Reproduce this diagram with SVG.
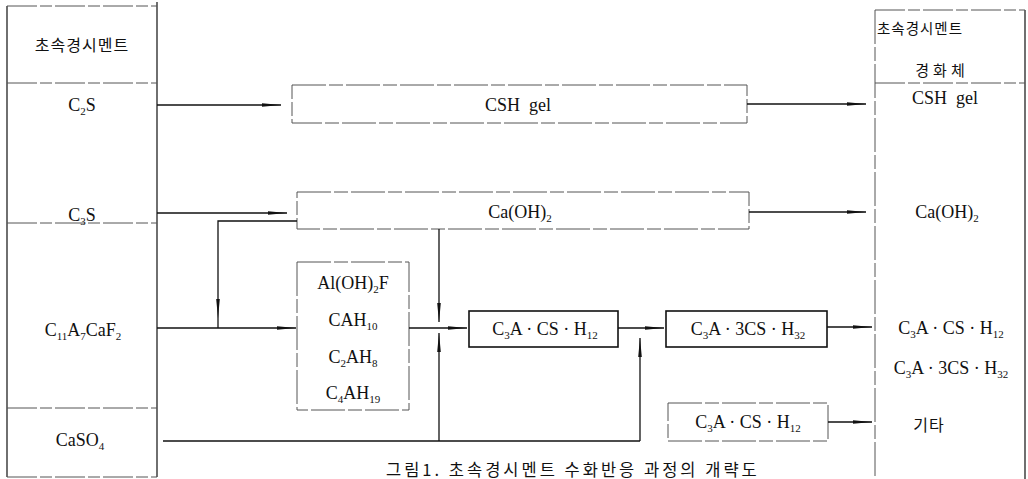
<svg xmlns="http://www.w3.org/2000/svg" width="1028" height="479" viewBox="0 0 1028 479">
<style>
  .t{font-family:"Liberation Serif","Times New Roman",serif;font-size:18px;fill:#111;text-anchor:middle}
  .k{font-family:"Noto Sans CJK KR","Liberation Serif",sans-serif;font-size:16px;fill:#111;letter-spacing:1px}
  .s{font-size:11px}
  .col{fill:none;stroke:#222;stroke-width:1.3}
  .sep{fill:none;stroke:#555;stroke-width:1;stroke-dasharray:30 3 12 3}
  .dbox{fill:none;stroke:#555;stroke-width:1;stroke-dasharray:34 3 14 3}
  .sbox{fill:none;stroke:#111;stroke-width:1.6}
  .c{fill:none;stroke:#111;stroke-width:1.3}
</style>
<defs>
  <marker id="a" markerUnits="userSpaceOnUse" markerWidth="20" markerHeight="6" refX="19" refY="3" orient="auto">
    <path d="M0,1.2 L19,3 L0,4.8 Z" fill="#111"/>
  </marker>
</defs>
<rect width="1028" height="479" fill="#fff"/>

<g id="left-column">
  <line class="col" x1="157" y1="2" x2="157" y2="477"/>
  <line class="col" x1="7" y1="6" x2="7" y2="477"/>
  <line class="sep" x1="7" y1="6" x2="157" y2="6"/>
  <line class="sep" x1="7" y1="83" x2="157" y2="83"/>
  <line class="sep" x1="7" y1="223" x2="157" y2="223"/>
  <line class="sep" x1="7" y1="408" x2="157" y2="408"/>
  <line class="sep" x1="7" y1="477" x2="157" y2="477"/>
  <text class="k" x="82" y="51" text-anchor="middle">초속경시멘트</text>
  <text class="t" x="82" y="111">C<tspan class="s" dy="4">2</tspan><tspan dy="-4">S</tspan></text>
  <text class="t" x="82" y="221">C<tspan class="s" dy="4">3</tspan><tspan dy="-4">S</tspan></text>
  <text class="t" x="83" y="336">C<tspan class="s" dy="4">11</tspan><tspan dy="-4">A</tspan><tspan class="s" dy="4">7</tspan><tspan dy="-4">CaF</tspan><tspan class="s" dy="4">2</tspan></text>
  <text class="t" x="80" y="446">CaSO<tspan class="s" dy="4">4</tspan></text>
</g>

<g id="right-column">
  <line class="dbox" x1="875" y1="10" x2="875" y2="479"/>
  <line class="col" x1="1025" y1="10" x2="1025" y2="479" stroke-width="1"/>
  <line class="sep" x1="875" y1="10" x2="1025" y2="10"/>
  <line class="sep" x1="875" y1="83" x2="1025" y2="83"/>
  <text class="k" x="877" y="34" style="font-size:14.5px">초속경시멘트</text>
  <text class="k" x="942" y="76" text-anchor="middle" style="font-size:15px;letter-spacing:4px">경화체</text>
  <text class="t" x="945" y="104" xml:space="preserve">CSH  gel</text>
  <text class="t" x="947" y="218">Ca(OH)<tspan class="s" dy="4">2</tspan></text>
  <text class="t" x="951" y="334">C<tspan class="s" dy="4">3</tspan><tspan dy="-4">A · CS · H</tspan><tspan class="s" dy="4">12</tspan></text>
  <text class="t" x="951" y="374">C<tspan class="s" dy="4">3</tspan><tspan dy="-4">A · 3CS · H</tspan><tspan class="s" dy="4">32</tspan></text>
  <text class="k" x="929" y="431" text-anchor="middle">기타</text>
</g>

<g id="csh-gel">
  <rect class="dbox" x="292" y="85" width="455" height="38"/>
  <text class="t" x="518" y="111" xml:space="preserve">CSH  gel</text>
</g>

<g id="caoh2">
  <rect class="dbox" x="297" y="192" width="452" height="37"/>
  <text class="t" x="520" y="218">Ca(OH)<tspan class="s" dy="4">2</tspan></text>
</g>

<g id="aluminates">
  <rect class="dbox" x="297" y="262" width="112" height="148"/>
  <text class="t" x="353" y="289">Al(OH)<tspan class="s" dy="4">2</tspan><tspan dy="-4">F</tspan></text>
  <text class="t" x="353" y="326">CAH<tspan class="s" dy="4">10</tspan></text>
  <text class="t" x="353" y="363">C<tspan class="s" dy="4">2</tspan><tspan dy="-4">AH</tspan><tspan class="s" dy="4">8</tspan></text>
  <text class="t" x="353" y="399">C<tspan class="s" dy="4">4</tspan><tspan dy="-4">AH</tspan><tspan class="s" dy="4">19</tspan></text>
</g>

<g id="monosulfate">
  <rect class="sbox" x="469" y="311" width="149" height="36"/>
  <text class="t" x="545" y="335">C<tspan class="s" dy="4">3</tspan><tspan dy="-4">A · CS · H</tspan><tspan class="s" dy="4">12</tspan></text>
</g>

<g id="ettringite">
  <rect class="sbox" x="666" y="311" width="161" height="36"/>
  <text class="t" x="748" y="335">C<tspan class="s" dy="4">3</tspan><tspan dy="-4">A · 3CS · H</tspan><tspan class="s" dy="4">32</tspan></text>
</g>

<g id="monosulfate-2">
  <rect class="dbox" x="668" y="403" width="160" height="38"/>
  <text class="t" x="748" y="428">C<tspan class="s" dy="4">3</tspan><tspan dy="-4">A · CS · H</tspan><tspan class="s" dy="4">12</tspan></text>
</g>

<g id="connectors">
  <path class="c" d="M157,105 H281" marker-end="url(#a)"/>
  <path class="c" d="M747,104 H866" marker-end="url(#a)"/>
  <path class="c" d="M157,213 H287" marker-end="url(#a)"/>
  <path class="c" d="M749,212 H866" marker-end="url(#a)"/>
  <path class="c" d="M297,221 H218 V318" marker-end="url(#a)"/>
  <path class="c" d="M218,318 V328"/>
  <path class="c" d="M157,328 H296" marker-end="url(#a)"/>
  <path class="c" d="M409,328 H467" marker-end="url(#a)"/>
  <path class="c" d="M439,229 V322" marker-end="url(#a)"/>
  <path class="c" d="M163,441 H640"/>
  <path class="c" d="M439,441 V333" marker-end="url(#a)"/>
  <path class="c" d="M640,441 V338" marker-end="url(#a)"/>
  <path class="c" d="M618,328 H664" marker-end="url(#a)"/>
  <path class="c" d="M827,327 H872" marker-end="url(#a)"/>
  <path class="c" d="M828,422 H872" marker-end="url(#a)"/>
</g>

<text class="k" x="386" y="476" style="font-size:16.5px;letter-spacing:3px">그림1. 초속경시멘트 수화반응 과정의 개략도</text>
</svg>
